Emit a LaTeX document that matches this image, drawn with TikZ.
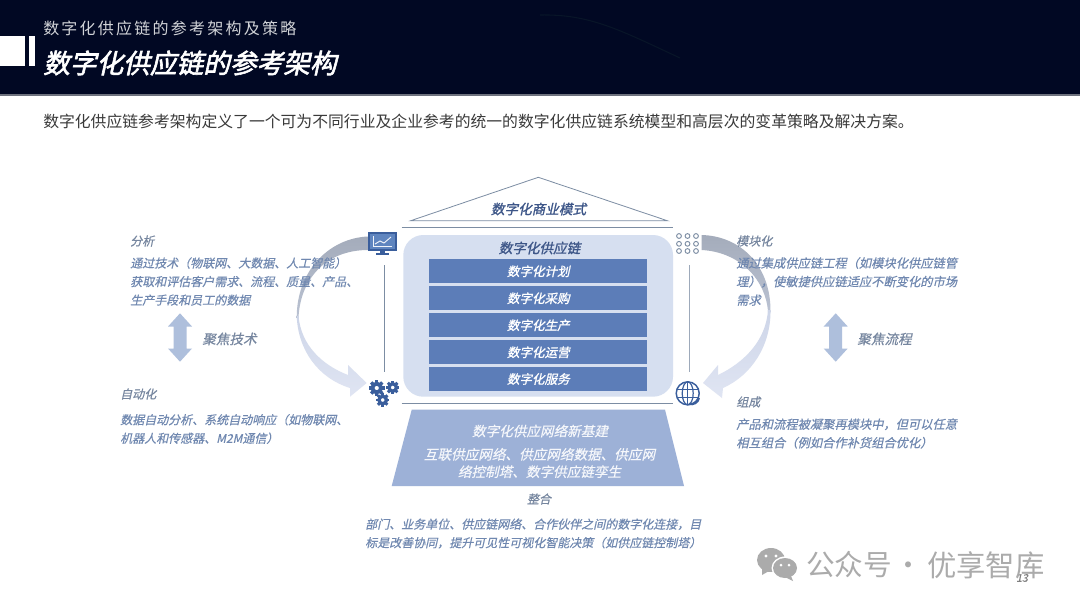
\documentclass[tikz,border=0pt]{standalone}
\usepackage{fontspec}
\usetikzlibrary{calc}
\setmainfont{Noto Sans CJK SC}
\newfontfamily\cjkup{Noto Sans CJK SC}
\newfontfamily\cjkspaced[LetterSpace=14]{Noto Sans CJK SC}
\newfontfamily\cjkit[FakeSlant=0.22,FakeBold=0.4]{Noto Sans CJK SC}
\newfontfamily\cjkbit[FakeSlant=0.22,FakeBold=1.2]{Noto Sans CJK SC}
\newfontfamily\cjktitle[FakeSlant=0.22,FakeBold=2.2]{Noto Sans CJK SC}
\definecolor{headbg}{HTML}{010823}
\definecolor{headwisp}{HTML}{081528}
\definecolor{headline}{HTML}{6E727E}
\definecolor{bodygray}{HTML}{3A3A3A}
\definecolor{desccol}{HTML}{7088B0}
\definecolor{labcol}{HTML}{76869F}
\definecolor{darkblue}{HTML}{3D5688}
\definecolor{barblue}{HTML}{5C7DB8}
\definecolor{panelcol}{HTML}{D6DFF0}
\definecolor{trapcol}{HTML}{9DB1D7}
\definecolor{rulecol}{HTML}{7C8DA3}
\definecolor{arrowgray}{HTML}{A4ACBB}
\definecolor{arrowmid}{HTML}{BAC2D2}
\definecolor{arrowsoft}{HTML}{CDD5E8}
\definecolor{arrowlight}{HTML}{E0E5F3}
\definecolor{dblcol}{HTML}{AEBFDC}
\definecolor{iconcol}{HTML}{3A5E9C}
\definecolor{iconfill}{HTML}{5F85BF}
\definecolor{wmgray}{HTML}{ABABAB}
\tikzset{
  x=0.75pt,y=-0.75pt,
  desctext/.style={text=desccol,anchor=west,align=left,inner sep=0pt,font=\cjkit\fontsize{9}{13.9}\selectfont},
  labtext/.style={text=labcol,anchor=west,inner sep=0pt,font=\cjkit\fontsize{9}{12}\selectfont},
  focustext/.style={text=labcol,anchor=west,inner sep=0pt,font=\cjkit\fontsize{10.2}{12}\selectfont},
  bartext/.style={text=white,font=\cjkbit\fontsize{9.4}{12}\selectfont,inner sep=0pt},
  barbox/.style={fill=barblue,draw=none},
  headtitle/.style={text=darkblue,font=\cjkbit\fontsize{10.2}{12}\selectfont,inner sep=0pt},
  ruleline/.style={draw=rulecol,line width=0.7pt},
  pics/geart/.style={code={
    \draw[iconcol,line width=#1*0.42pt] (0,0) circle[radius=#1*0.62];
    \foreach \a in {0,45,...,315}{\draw[iconcol,line width=#1*0.36pt] (\a:#1*0.72) -- (\a:#1*1.12);}
  }},
  pics/updown/.style={code={
    \fill[dblcol] (0,-24.2) -- (12,-11) -- (6.5,-11) -- (6.5,11) -- (12,11) -- (0,24.2) -- (-12,11) -- (-6.5,11) -- (-6.5,-11) -- (-12,-11) -- cycle;
  }}
}
\begin{document}
\begin{tikzpicture}
\useasboundingbox (0,0) rectangle (1080,608);
\fill[white] (0,0) rectangle (1080,608);
% header
\fill[headbg] (0,0) rectangle (1080,94);
\draw[headwisp,line width=0.8pt] (540,15) .. controls (590,14) and (620,30) .. (680,58);
\fill[headline] (0,94) rectangle (1080,95.5);
\fill[white] (0,36) rectangle (25,66);
\fill[white] (29,36) rectangle (35,66);
\node[anchor=west,inner sep=0pt,text=white!82!headbg,font=\cjkspaced\fontsize{12}{14}\selectfont] (sub) at (43,28) {数字化供应链的参考架构及策略};
\node[anchor=west,inner sep=0pt,text=white,font=\cjktitle\fontsize{20}{24}\selectfont] (title) at (43,63) {数字化供应链的参考架构};
\node[anchor=west,inner sep=0pt,text=bodygray,font=\cjkup\fontsize{11.87}{14}\selectfont] (intro) at (43,121) {数字化供应链参考架构定义了一个可为不同行业及企业参考的统一的数字化供应链系统模型和高层次的变革策略及解决方案。};
% crescents
\shade[top color=arrowgray,bottom color=arrowmid]
  (368,236.5) .. controls (330,238) and (296.5,270) .. (296.7,318)
  -- (298.5,318) .. controls (300,280) and (325,250) .. (368,250) -- cycle;
\shade[top color=arrowsoft,bottom color=arrowlight]
  (296.7,316) .. controls (298,350) and (318,378) .. (350,388)
  -- (350,396.7) -- (366.7,383) -- (348,365) -- (348,375)
  .. controls (322,365) and (301,345) .. (298.5,316) -- cycle;
\shade[top color=arrowgray,bottom color=arrowmid]
  (701.7,235) .. controls (740,236) and (771,265) .. (770.5,312)
  -- (768,312) .. controls (766,280) and (740,252) .. (701.7,250) -- cycle;
\shade[top color=arrowsoft,bottom color=arrowlight]
  (770.5,310) .. controls (771,345) and (752,375) .. (723,388)
  -- (722,398) -- (703,383) -- (718,365) -- (718,375)
  .. controls (745,362) and (766,340) .. (768,310) -- cycle;
% rules
\draw[ruleline] (384.3,265) -- (384.3,371.7);
\draw[ruleline,draw=rulecol!75!white] (689,265) -- (689,371.7);
\draw[ruleline] (401.7,227.3) -- (673,227.3);
\draw[ruleline] (401.7,403.3) -- (673,403.3);
% roof
\draw[draw=rulecol,line width=0.6pt,fill=white] (538.3,177.3) -- (667.3,220.7) -- (410.7,220.7) -- cycle;
\node[headtitle] (roof) at (538.5,209) {数字化商业模式};
% panel
\fill[panelcol,rounded corners=15pt] (403.3,235) rectangle (673,396.7);
\node[headtitle] (panelt) at (539.5,248) {数字化供应链};
\node[barbox,minimum width=163.5pt,minimum height=18pt,inner sep=0pt] (b1) at (538.3,271.3) {};
\node[barbox,minimum width=163.5pt,minimum height=18pt,inner sep=0pt] (b2) at (538.3,298.3) {};
\node[barbox,minimum width=163.5pt,minimum height=18pt,inner sep=0pt] (b3) at (538.3,325.3) {};
\node[barbox,minimum width=163.5pt,minimum height=18pt,inner sep=0pt] (b4) at (538.3,352.3) {};
\node[barbox,minimum width=163.5pt,minimum height=18pt,inner sep=0pt] (b5) at (538.3,379) {};
\node[bartext] at (b1) {数字化计划};
\node[bartext] at (b2) {数字化采购};
\node[bartext] at (b3) {数字化生产};
\node[bartext] at (b4) {数字化运营};
\node[bartext] at (b5) {数字化服务};
% trapezoid
\fill[trapcol] (411.7,409.7) -- (665,409.7) -- (684,486) -- (391.7,486) -- cycle;
\node[text=white!90!trapcol,font=\cjkit\fontsize{10.2}{12}\selectfont,inner sep=0pt] (t1) at (540,431) {数字化供应网络新基建};
\node[text=white!90!trapcol,font=\cjkit\fontsize{10.2}{13}\selectfont,align=center,inner sep=0pt] (t2) at (539.5,463) {互联供应网络、供应网络数据、供应网\\络控制塔、数字供应链孪生};
\node[labtext,anchor=center] (zh) at (539,499) {整合};
\node[desctext] (ztext) at (365,533.5) {部门、业务单位、供应链网络、合作伙伴之间的数字化连接，目\\标是改善协同，提升可见性可视化智能决策（如供应链控制塔）};
% left text
\node[labtext] (a1) at (130,241) {分析};
\node[desctext] (a2) at (130,281.5) {通过技术（物联网、大数据、人工智能）\\获取和评估客户需求、流程、质量、产品、\\生产手段和员工的数据};
\pic at (180,337.5) {updown};
\node[focustext] (f1) at (202,339) {聚焦技术};
\node[labtext] (a3) at (120,394) {自动化};
\node[desctext] (a4) at (120,429) {数据自动分析、系统自动响应（如物联网、\\机器人和传感器、M2M通信）};
% right text
\node[labtext] (c1) at (736,241) {模块化};
\node[desctext,font=\cjkit\fontsize{9.2}{13.9}\selectfont] (c2) at (736,281.5) {通过集成供应链工程（如模块化供应链管\\理），使敏捷供应链适应不断变化的市场\\需求};
\pic at (835.7,337.5) {updown};
\node[focustext] (f2) at (857,339) {聚焦流程};
\node[labtext] (c3) at (736,402) {组成};
\node[desctext,font=\cjkit\fontsize{9.2}{13.9}\selectfont] (c4) at (736,433.5) {产品和流程被凝聚再模块中，但可以任意\\相互组合（例如合作补货组合优化）};
% monitor icon
\fill[iconcol] (368.3,232) rectangle (396.7,250.5);
\fill[iconfill] (370,233.7) rectangle (395,248.8);
\draw[white!90!iconfill,line width=0.7pt] (373,236) -- (373,246) -- (392,246);
\draw[white!90!iconfill,line width=0.7pt] (375,244) -- (380,241) -- (384,243) -- (391,237);
\fill[iconcol] (380,250.5) rectangle (385,253);
\fill[iconcol] (376,253) rectangle (389,254.5);
% dots icon
\foreach \yy in {236,243.8,251}{\foreach \xx in {679,687.5,696}{
  \draw[rulecol,line width=0.7pt] (\xx,\yy) circle[radius=2.4];}}
% gears
\pic at (376.7,388) {geart=7};
\pic at (392.7,387.5) {geart=6};
\pic at (382.7,400) {geart=6};
% globe
\draw[iconcol,line width=1.1pt] (687.7,393.3) circle[radius=11.5];
\draw[iconcol,line width=0.9pt] (687.7,393.3) ellipse[x radius=5.5,y radius=11.5];
\draw[iconcol,line width=0.9pt] (687.7,381.8) -- (687.7,404.8);
\draw[iconcol,line width=0.9pt] (677,389.5) -- (698.5,389.5);
\draw[iconcol,line width=0.9pt] (677,397.5) -- (698.5,397.5);
\draw[iconcol,line width=1.6pt] (689,404) .. controls (693,405) and (698,403) .. (699,398);
% watermark
\fill[wmgray] (771,560) ellipse[x radius=14,y radius=12];
\fill[wmgray] (762,568) -- (762,575) -- (769,571) -- cycle;
\fill[white] (785,568) ellipse[x radius=13.5,y radius=11.5];
\fill[wmgray] (785,568) ellipse[x radius=12,y radius=10];
\fill[wmgray] (791,576) -- (793,581) -- (785,577) -- cycle;
\fill[white] (766,556) circle[radius=1.7] (776,556) circle[radius=1.7] (781,565) circle[radius=1.5] (789,565) circle[radius=1.5];
\node[anchor=west,inner sep=0pt,text=wmgray,font=\cjkup\fontsize{21.5}{24}\selectfont] (wm1) at (806,565) {公众号};
\node[inner sep=0pt,text=wmgray,font=\cjkup\fontsize{21}{24}\selectfont] (wmd) at (908,569) {·};
\node[anchor=west,inner sep=0pt,text=wmgray,font=\cjkup\fontsize{22}{24}\selectfont] (wm2) at (927,565) {优享智库};
\node[inner sep=0pt,text=gray,font=\cjkit\fontsize{8}{10}\selectfont] (pg) at (1022,578) {13};
\end{tikzpicture}
\end{document}
